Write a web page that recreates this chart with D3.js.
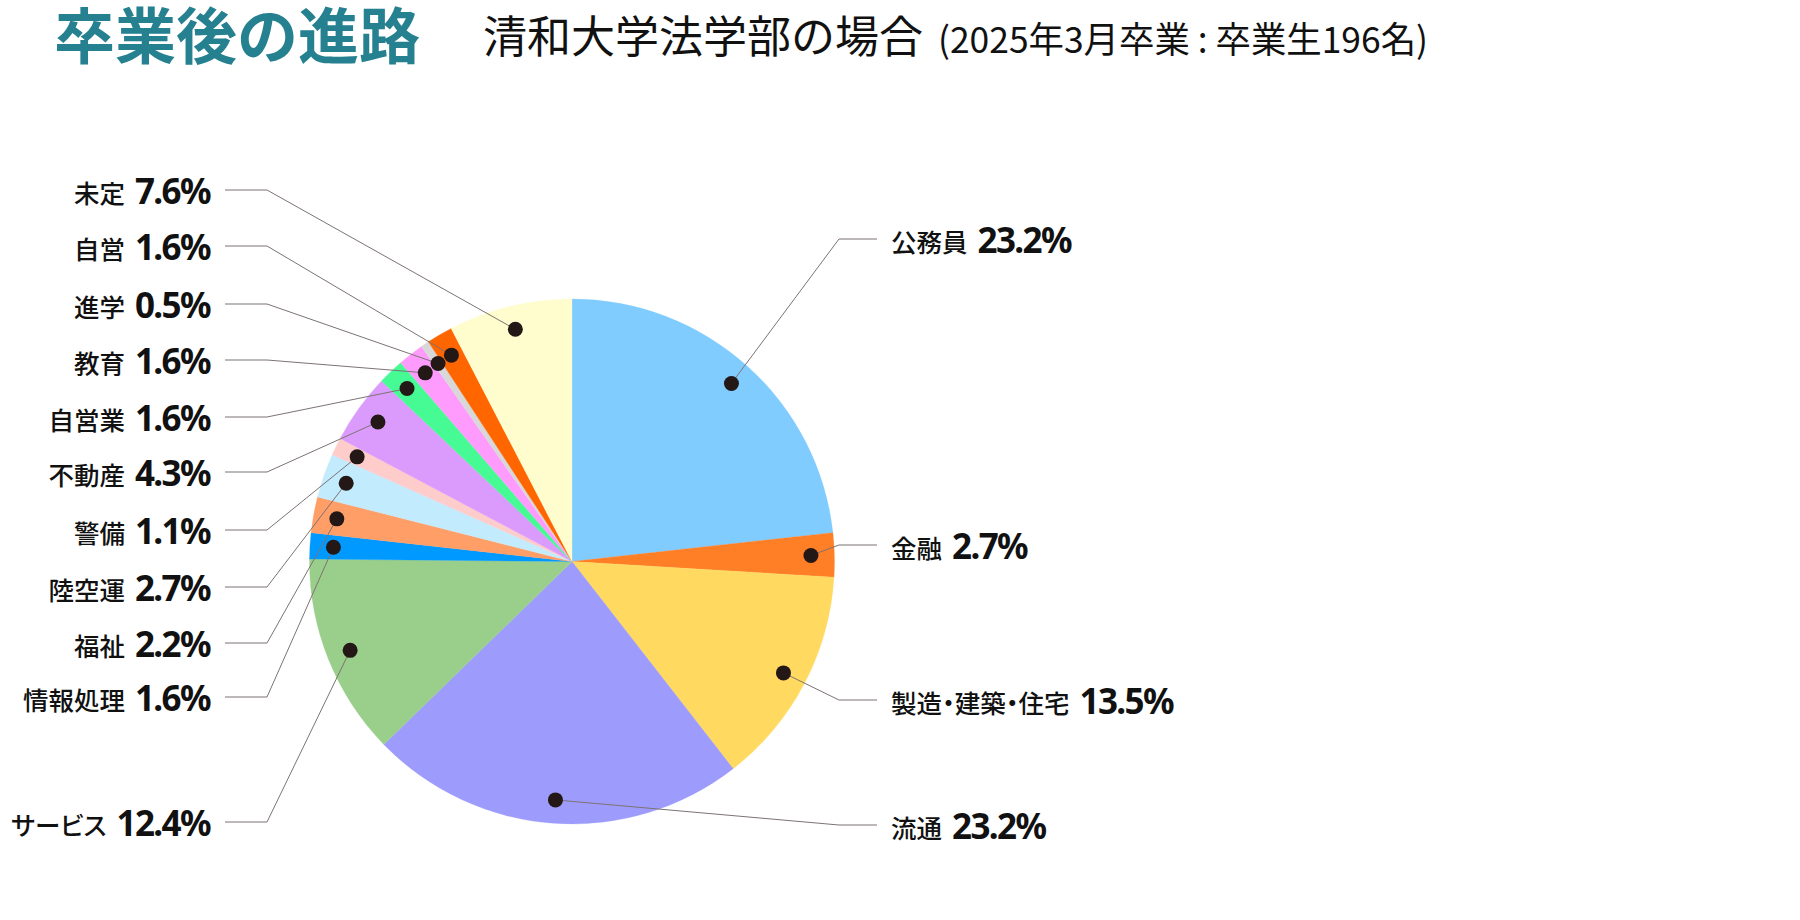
<!DOCTYPE html>
<html lang="ja">
<head>
<meta charset="utf-8">
<script src="https://cdn.jsdelivr.net/npm/d3@7"></script>
<style>
  html, body { margin: 0; padding: 0; background: #fff; }
  svg { display: block; }
</style>
</head>
<body>
<script>
// ---------- DATA ----------
const categories = ["公務員", "金融", "製造・建築・住宅", "流通", "サービス", "情報処理", "福祉", "陸空運", "警備", "不動産", "自営業", "教育", "進学", "自営", "未定"];
const values = [23.2, 2.7, 13.5, 23.2, 12.4, 1.6, 2.2, 2.7, 1.1, 4.3, 1.6, 1.6, 0.5, 1.6, 7.6];
const valueLabels = ["23.2%", "2.7%", "13.5%", "23.2%", "12.4%", "1.6%", "2.2%", "2.7%", "1.1%", "4.3%", "1.6%", "1.6%", "0.5%", "1.6%", "7.6%"];
const titleText = "卒業後の進路";
const subtitleText = "清和大学法学部の場合";
const noteText = "(2025年3月卒業 : 卒業生196名)";

// ---------- STYLE / LAYOUT ----------
const colors = ["#80CCFF", "#FF7F27", "#FFD960", "#9D9CFC", "#99CF8A", "#0099FF", "#FF9E66", "#C2EBFD", "#FFCCCC", "#DA9BFC", "#46FB94", "#FF9BFC", "#D8D8D8", "#FF6600", "#FFFDCD"];
// label side and vertical position of each callout
const labelSide = ["right", "right", "right", "right", "left", "left", "left", "left", "left", "left", "left", "left", "left", "left", "left"];
const labelY = [239, 545, 700, 825, 822, 697, 643, 587, 530, 472, 417, 360, 304, 246, 190];

const W = 1800, H = 920;
const cx = 572, cy = 561.5, R = 262.5, dotRadius = 239;
const leftTextX = 210, leftLineEnd = 225, leftElbow = 267;
const rightTextX = 891, rightLineEnd = 877, rightElbow = 839;

const svg = d3.select("body").append("svg")
  .attr("width", W).attr("height", H)
  .attr("viewBox", `0 0 ${W} ${H}`);

svg.append("rect").attr("width", W).attr("height", H).attr("fill", "#fff");

// ---------- TITLE ----------
svg.append("text")
  .attr("x", 54).attr("y", 59)
  .attr("font-family", "'Noto Sans CJK JP', sans-serif")
  .attr("font-weight", 700)
  .attr("font-size", 61)
  .attr("fill", "#25808F")
  .text(titleText);

svg.append("text")
  .attr("x", 483).attr("y", 53)
  .attr("font-family", "'Noto Sans CJK JP', sans-serif")
  .attr("font-weight", 400)
  .attr("font-size", 44)
  .attr("fill", "#111")
  .text(subtitleText);

svg.append("text")
  .attr("x", 938).attr("y", 53)
  .attr("font-family", "'Noto Sans CJK JP', sans-serif")
  .attr("font-weight", 400)
  .attr("font-size", 36)
  .attr("textLength", 490)
  .attr("lengthAdjust", "spacingAndGlyphs")
  .attr("fill", "#111")
  .text(noteText);

// ---------- PIE ----------
const data = categories.map((c, i) => ({ name: c, value: values[i], label: valueLabels[i], color: colors[i], side: labelSide[i], ly: labelY[i] }));

const pie = d3.pie().sort(null).value(d => d.value).startAngle(0).endAngle(2 * Math.PI);
const arcs = pie(data);
const arc = d3.arc().innerRadius(0).outerRadius(R);
const dotArc = d3.arc().innerRadius(dotRadius).outerRadius(dotRadius);

const g = svg.append("g").attr("transform", `translate(${cx},${cy})`);

g.selectAll("path.slice")
  .data(arcs)
  .join("path")
  .attr("class", "slice")
  .attr("d", arc)
  .attr("fill", d => d.data.color)
  .attr("stroke", d => d.data.color)
  .attr("stroke-width", 0.3);

// ---------- LEADER LINES ----------
const line = d3.line();
svg.append("g").selectAll("path.leader")
  .data(arcs)
  .join("path")
  .attr("class", "leader")
  .attr("fill", "none")
  .attr("stroke", "#7d7373")
  .attr("stroke-width", 1)
  .attr("d", d => {
    const c = dotArc.centroid(d);
    const p0 = [cx + c[0], cy + c[1]];
    const left = d.data.side === "left";
    const p1 = [left ? leftElbow : rightElbow, d.data.ly];
    const p2 = [left ? leftLineEnd : rightLineEnd, d.data.ly];
    return line([p0, p1, p2]);
  });

// ---------- DOTS ----------
svg.append("g").selectAll("circle.dot")
  .data(arcs)
  .join("circle")
  .attr("class", "dot")
  .attr("cx", d => cx + dotArc.centroid(d)[0])
  .attr("cy", d => cy + dotArc.centroid(d)[1])
  .attr("r", 7.5)
  .attr("fill", "#231815");

// ---------- LABELS ----------
const labels = svg.append("g").selectAll("text.lbl")
  .data(arcs)
  .join("text")
  .attr("class", "lbl")
  .attr("x", d => d.data.side === "left" ? leftTextX : rightTextX)
  .attr("y", d => d.data.ly + 14)
  .attr("text-anchor", d => d.data.side === "left" ? "end" : "start")
  .attr("fill", "#111");

labels.append("tspan")
  .attr("font-family", "'Noto Sans CJK JP', sans-serif")
  .attr("font-weight", 500)
  .attr("font-size", 25.5)
  .attr("dy", -1)
  .style("font-feature-settings", "'palt'")
  .text(d => d.data.name);

labels.append("tspan")
  .attr("dx", 10)
  .attr("dy", 1)
  .attr("font-family", "'Noto Sans', 'Noto Sans CJK JP', sans-serif")
  .attr("font-weight", 700)
  .attr("font-size", 35)
  .attr("letter-spacing", -1.6)
  .text(d => d.data.label);
</script>
</body>
</html>
